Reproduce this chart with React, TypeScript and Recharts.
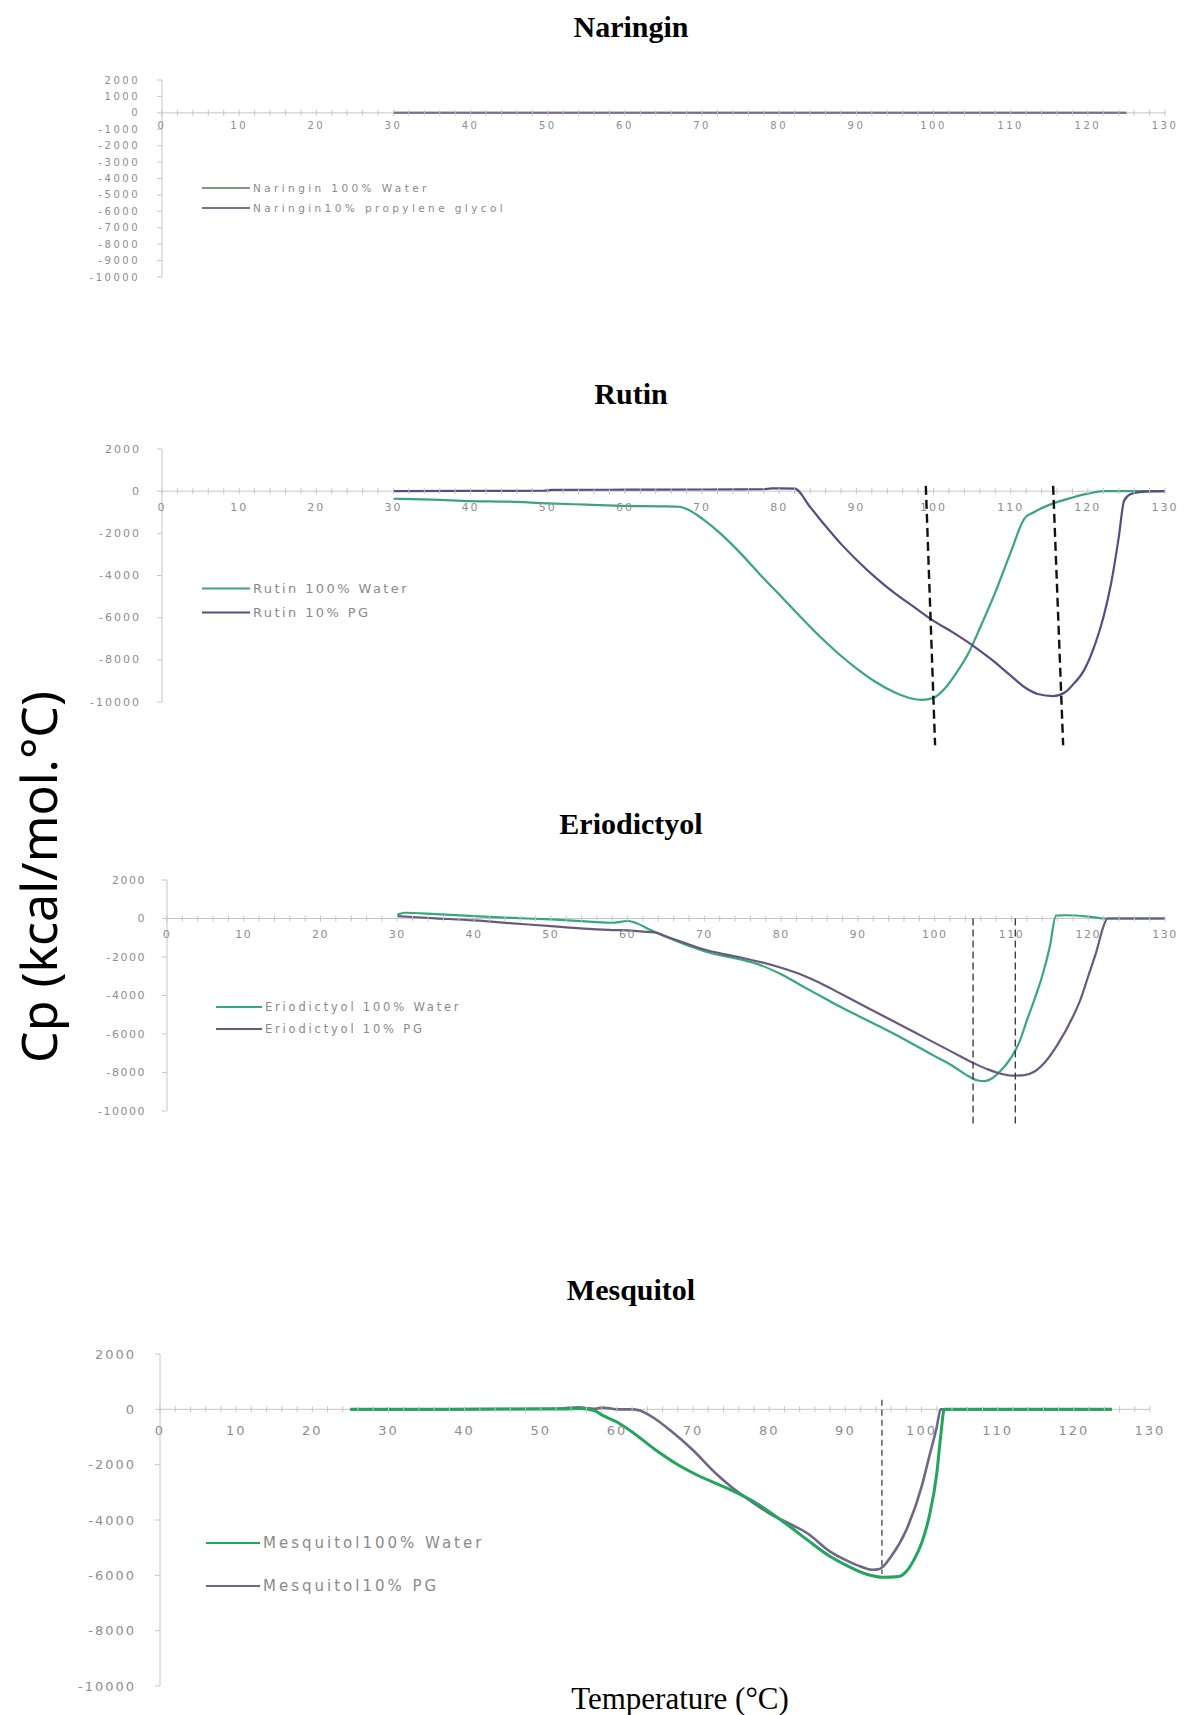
import React from 'react'
import { LineChart, Line, XAxis, YAxis, ReferenceLine } from 'recharts'

type Pt = [number, number]

// axis ticks
const xTicks = [
  0, 2, 4, 6, 8, 10, 12, 14, 16, 18, 20, 22, 24, 26, 28, 30, 32, 34, 36, 38, 40, 42, 44, 46, 48, 50,
  52, 54, 56, 58, 60, 62, 64, 66, 68, 70, 72, 74, 76, 78, 80, 82, 84, 86, 88, 90, 92, 94, 96, 98, 100,
  102, 104, 106, 108, 110, 112, 114, 116, 118, 120, 122, 124, 126, 128, 130,
]
const yTicksFine = [2000, 1000, 0, -1000, -2000, -3000, -4000, -5000, -6000, -7000, -8000, -9000, -10000]
const yTicks = [2000, 0, -2000, -4000, -6000, -8000, -10000]

// [temperature, Cp]
const naringinWater: Pt[] = [[30, 0], [50, 0], [70, 0], [90, 0], [110, 0], [125, 0]]
const naringinPG: Pt[] = [[30, 0], [50, 0], [70, 0], [90, 0], [110, 0], [125, 0]]

const rutinWater: Pt[] = [
  [30, -360], [35, -400], [40, -470], [45, -500], [50, -580], [55, -640], [60, -700], [65, -720], [67, -740],
  [68, -850], [70, -1300], [72.5, -2050], [75, -2950], [77.5, -3950], [80, -4900], [82.5, -5860], [85, -6800],
  [87.5, -7650], [90, -8400], [92.5, -9050], [95, -9550], [97, -9820], [98.5, -9900], [100, -9800],
  [101.5, -9350], [103, -8600], [104.5, -7700], [106, -6500], [108, -4800], [110, -2900], [111.8, -1290],
  [113, -1000], [115, -650], [118, -300], [120, -120], [122, 0], [125, 0], [130, 0],
]
const rutinPG: Pt[] = [
  [30, 0], [40, 10], [49.5, 20], [50.5, 60], [60, 70], [70, 80], [78, 90], [79, 130], [82, 120],
  [84, -750], [86, -1650], [88, -2500], [90, -3250], [92.5, -4100], [95, -4850], [97.5, -5500], [100, -6150],
  [102.5, -6700], [105, -7300], [107.5, -7980], [110, -8750], [112, -9350], [113.5, -9620], [115.5, -9720],
  [117, -9550], [118, -9200], [119.5, -8500], [121, -7200], [122, -6000], [123, -4400], [124, -2200],
  [124.7, -450], [125.5, -150], [127, -30], [130, 0],
]
const rutinDashes: [Pt, Pt][] = [[[99, 250], [100.2, -12050]], [[115.5, 250], [116.8, -12050]]]

const erioWater: Pt[] = [
  [30, 200], [31, 300], [35, 230], [40, 120], [45, 30], [50, -50], [55, -160], [58, -220], [60, -130],
  [61, -220], [63, -600], [65, -950], [67.5, -1350], [70, -1700], [72.5, -1950], [75, -2150], [77.5, -2450],
  [80, -2900], [82.5, -3450], [85, -4000], [87.5, -4550], [90, -5050], [92.5, -5550], [95, -6050],
  [97.5, -6600], [100, -7150], [102.5, -7700], [104, -8100], [105.5, -8400], [106.5, -8450], [107.5, -8300],
  [108.5, -7950], [110, -7200], [111, -6450], [112, -5300], [113, -4200], [114, -3000], [115, -1450],
  [115.8, 150], [117, 170], [120, 100], [122, 0], [130, 0],
]
const erioPG: Pt[] = [
  [30, 120], [35, 10], [40, -100], [45, -250], [50, -400], [55, -540], [58, -600], [60, -620], [62, -680],
  [63.5, -720], [65, -930], [67.5, -1280], [70, -1610], [72.5, -1850], [75, -2050], [77.5, -2280],
  [80, -2560], [82.5, -2900], [85, -3340], [87.5, -3850], [90, -4380], [92.5, -4900], [95, -5420],
  [97.5, -5940], [100, -6460], [102.5, -6980], [105, -7500], [107, -7850], [108.5, -8050], [110, -8160],
  [111.5, -8150], [113, -7950], [114.5, -7400], [116, -6550], [118, -5100], [119, -4200], [120, -3000],
  [121, -1800], [122, -400], [122.5, 0], [125, 0], [130, 0],
]
const erioDashes: [Pt, Pt][] = [[[105, 0], [105, -10800]], [[110.5, 0], [110.5, -10800]]]

const mesqWater: Pt[] = [
  [25, 0], [35, 0], [45, 10], [53, 10], [55, 30], [57, -40], [58, -200], [60, -460], [62, -820],
  [65, -1450], [68, -2000], [70, -2300], [73, -2680], [75, -2920], [78, -3340], [80, -3700], [83, -4300],
  [85, -4720], [88, -5320], [90, -5620], [93, -5980], [95, -6070], [97, -6040], [98, -5860], [99, -5440],
  [100, -4840], [101, -3880], [102, -2320], [102.5, -1000], [103, 0], [110, 0], [125, 0],
]
const mesqPG: Pt[] = [
  [25, 0], [35, 0], [45, 10], [50, 20], [53, 40], [55, 70], [56, 40], [57, 20], [58, 60], [59, 40],
  [60, 0], [62, 0], [63, -40], [65, -340], [67, -760], [70, -1480], [73, -2320], [75, -2800], [78, -3400],
  [80, -3760], [83, -4180], [85, -4480], [88, -5140], [90, -5440], [92, -5680], [93.5, -5800],
  [94.5, -5770], [96, -5320], [98, -4360], [100, -2800], [101, -1720], [102, -640], [102.5, 0],
  [110, 0], [125, 0],
]
const mesqDashes: [Pt, Pt][] = [[[94.8, 350], [94.8, -5950]]]

const toRows = (pts: Pt[]) => pts.map(([t, v]) => ({ t, v }))

interface Series {
  name: string
  pts: Pt[]
  color: string
  width: number
}

interface PanelProps {
  title: string
  titleY: number
  left: number
  right: number
  top: number
  bottom: number
  yTickList: number[]
  yFont: number
  yGap: number
  xFont: number
  xGap: number
  spacing: number
  series: Series[]
  drawOrder?: number[]
  dashes: [Pt, Pt][]
  dashStyle: { color: string; width: number; dash: string }
  legend: { x: number; y: number; rowGap: number; font: number; lineW: number; spacing: number }
}

const MT = 20
const MB = 50
const XH = 10

function Panel(p: PanelProps) {
  const plotH = p.bottom - p.top
  const zeroY = MT + plotH / 6
  const width = p.right + 20
  const height = plotH + MT + MB + XH
  const order = p.drawOrder ?? p.series.map((_, i) => i)

  const xTick = (props: any) => {
    const { x, payload } = props
    const v = payload.value
    return (
      <g>
        <line x1={x} x2={x} y1={zeroY - 3} y2={zeroY + 3} stroke="#c6c6c6" />
        {v % 10 === 0 && (
          <text
            x={x}
            y={zeroY + p.xGap}
            textAnchor="middle"
            dominantBaseline="central"
            fontSize={p.xFont}
            fill="#8e8e8e"
            fontFamily="DejaVu Sans"
            style={{ letterSpacing: p.spacing }}
          >
            {v}
          </text>
        )}
      </g>
    )
  }

  const yTick = (props: any) => {
    const { x, y, payload } = props
    return (
      <text
        x={x}
        y={y}
        textAnchor="end"
        dominantBaseline="central"
        fontSize={p.yFont}
        fill="#8e8e8e"
        fontFamily="DejaVu Sans"
        style={{ letterSpacing: p.spacing }}
      >
        {payload.value}
      </text>
    )
  }

  return (
    <>
      <div
        style={{
          position: 'absolute',
          left: 631,
          top: p.titleY,
          transform: 'translate(-50%, -50%)',
          fontFamily: '"Liberation Serif", serif',
          fontWeight: 'bold',
          fontSize: 30,
          lineHeight: 1,
          whiteSpace: 'nowrap',
        }}
      >
        {p.title}
      </div>
      <div style={{ position: 'absolute', left: 0, top: p.top - MT }}>
        <LineChart width={width} height={height} margin={{ top: MT, right: 20, bottom: MB, left: 0 }}>
          <XAxis
            type="number"
            dataKey="t"
            domain={[0, 130]}
            ticks={xTicks}
            interval={0}
            axisLine={false}
            tickLine={false}
            tick={xTick}
            height={XH}
            allowDataOverflow
          />
          <YAxis
            type="number"
            domain={[-10000, 2000]}
            ticks={p.yTickList}
            interval={0}
            width={p.left}
            tickSize={5}
            tickMargin={p.yGap}
            axisLine={{ stroke: '#c6c6c6' }}
            tickLine={{ stroke: '#c6c6c6' }}
            tick={yTick}
          />
          <ReferenceLine y={0} stroke="#c6c6c6" />
          {order.map((idx) => {
            const s = p.series[idx]
            return (
              <Line
                key={s.name}
                data={toRows(s.pts)}
                dataKey="v"
                name={s.name}
                type="monotone"
                stroke={s.color}
                strokeWidth={s.width}
                dot={false}
                activeDot={false}
                isAnimationActive={false}
              />
            )
          })}
          {p.dashes.map((d, i) => (
            <ReferenceLine
              key={i}
              segment={[{ x: d[0][0], y: d[0][1] }, { x: d[1][0], y: d[1][1] }]}
              stroke={p.dashStyle.color}
              strokeWidth={p.dashStyle.width}
              strokeDasharray={p.dashStyle.dash}
              ifOverflow="visible"
            />
          ))}
        </LineChart>
      </div>
      {p.series.map((s, i) => (
        <div
          key={s.name}
          style={{
            position: 'absolute',
            left: p.legend.x,
            top: p.legend.y + i * p.legend.rowGap,
            transform: 'translateY(-50%)',
            display: 'flex',
            alignItems: 'center',
            whiteSpace: 'nowrap',
            fontFamily: '"DejaVu Sans", sans-serif',
            fontSize: p.legend.font,
            letterSpacing: p.legend.spacing,
            color: '#8a8a8a',
          }}
        >
          <span style={{ display: 'inline-block', width: p.legend.lineW, height: 0, borderTop: `2px solid ${s.color}`, marginRight: 3 }} />
          {s.name}
        </div>
      ))}
    </>
  )
}

export default function App() {
  return (
    <div
      style={{
        position: 'absolute',
        left: 0,
        top: 0,
        width: 1184,
        height: 1715,
        background: '#fff',
        overflow: 'hidden',
      }}
    >
      <Panel
        title="Naringin"
        titleY={27}
        left={162}
        right={1165}
        top={80}
        bottom={277}
        yTickList={yTicksFine}
        yFont={10}
        yGap={17}
        xFont={10}
        xGap={13}
        spacing={2.5}
        series={[
          { name: 'Naringin 100% Water', pts: naringinWater, color: '#7f9a80', width: 2 },
          { name: 'Naringin10% propylene glycol', pts: naringinPG, color: '#7e6d92', width: 2 },
        ]}
        dashes={[]}
        dashStyle={{ color: '#111', width: 2, dash: '7 5' }}
        legend={{ x: 202, y: 188, rowGap: 20, font: 10.5, lineW: 48, spacing: 3.4 }}
      />
      <Panel
        title="Rutin"
        titleY={394}
        left={162}
        right={1165}
        top={449}
        bottom={702}
        yTickList={yTicks}
        yFont={11}
        yGap={16}
        xFont={11}
        xGap={16}
        spacing={2}
        series={[
          { name: 'Rutin 100% Water', pts: rutinWater, color: '#3aa57c', width: 2.2 },
          { name: 'Rutin 10% PG', pts: rutinPG, color: '#5b4b80', width: 2.2 },
        ]}
        dashes={rutinDashes}
        dashStyle={{ color: '#111', width: 2.4, dash: '9 5' }}
        legend={{ x: 202, y: 588, rowGap: 24, font: 13, lineW: 48, spacing: 2.4 }}
      />
      <Panel
        title="Eriodictyol"
        titleY={824}
        left={167}
        right={1165}
        top={880}
        bottom={1111}
        yTickList={yTicks}
        yFont={11}
        yGap={16}
        xFont={11}
        xGap={16}
        spacing={1.5}
        series={[
          { name: 'Eriodictyol 100% Water', pts: erioWater, color: '#35a87d', width: 2.2 },
          { name: 'Eriodictyol 10% PG', pts: erioPG, color: '#6a587f', width: 2.2 },
        ]}
        dashes={erioDashes}
        dashStyle={{ color: '#333', width: 1.3, dash: '7 4' }}
        legend={{ x: 216, y: 1007, rowGap: 22, font: 11.5, lineW: 46, spacing: 2.8 }}
      />
      <Panel
        title="Mesquitol"
        titleY={1290}
        left={160}
        right={1150}
        top={1354}
        bottom={1686}
        yTickList={yTicks}
        yFont={13}
        yGap={19}
        xFont={13}
        xGap={21}
        spacing={2}
        series={[
          { name: 'Mesquitol100% Water', pts: mesqWater, color: '#22a55c', width: 3 },
          { name: 'Mesquitol10% PG', pts: mesqPG, color: '#706685', width: 2.6 },
        ]}
        drawOrder={[1, 0]}
        dashes={mesqDashes}
        dashStyle={{ color: '#444', width: 1.3, dash: '6 4' }}
        legend={{ x: 206, y: 1543, rowGap: 43, font: 15, lineW: 54, spacing: 3 }}
      />
      <div
        style={{
          position: 'absolute',
          left: 680,
          top: 1698,
          transform: 'translate(-50%, -50%)',
          fontFamily: '"Liberation Serif", serif',
          fontSize: 31,
          lineHeight: 1,
          whiteSpace: 'nowrap',
        }}
      >
        Temperature (°C)
      </div>
      <div
        style={{
          position: 'absolute',
          left: 38,
          top: 877,
          transform: 'translate(-50%, -50%) rotate(-90deg)',
          fontFamily: '"Noto Sans", sans-serif',
          fontSize: 50,
          lineHeight: 1,
          whiteSpace: 'nowrap',
        }}
      >
        Cp (kcal/mol.°C)
      </div>
    </div>
  )
}
